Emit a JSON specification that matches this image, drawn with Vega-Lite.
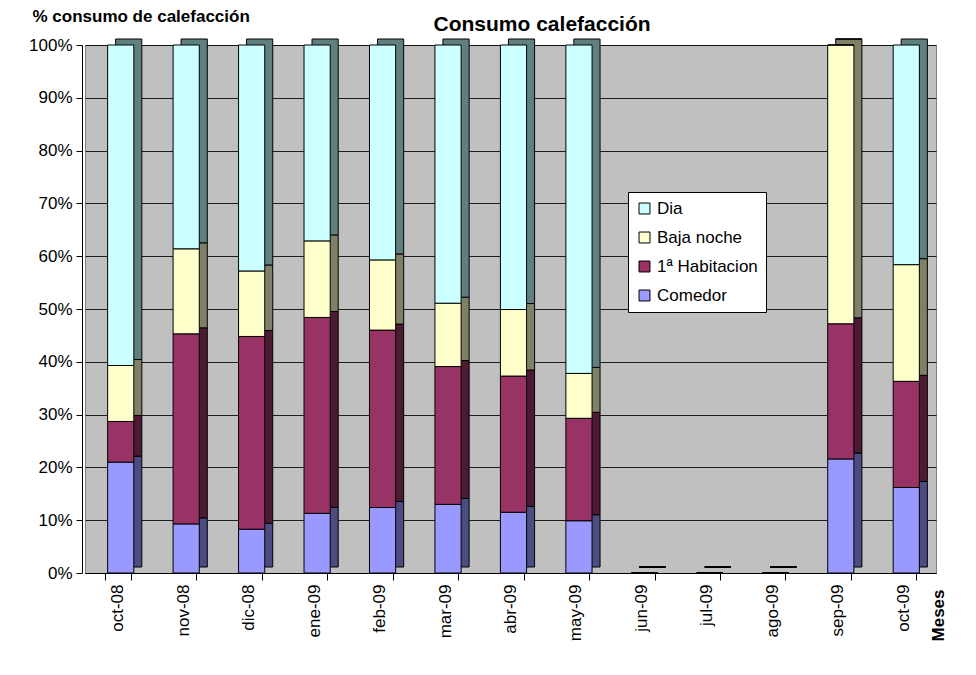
{
  "$schema": "https://vega.github.io/schema/vega-lite/v6.json",
  "autosize": "none",
  "width": 851,
  "height": 528,
  "padding": {"left": 85, "top": 45, "right": 40, "bottom": 102},
  "background": "white",
  "title": {
    "text": "Consumo calefacción",
    "font": "Liberation Sans",
    "fontSize": 21,
    "fontWeight": "bold",
    "color": "black",
    "anchor": "start",
    "baseline": "bottom",
    "dx": 405,
    "offset": -49
  },
  "config": {
    "view": {"fill": "#C0C0C0", "stroke": "#808080", "strokeWidth": 1},
    "font": "Liberation Sans"
  },
  "data": {
    "values": [
      {"mes": "oct-08", "serie": "Comedor", "orden": 1, "valor": 21.0},
      {"mes": "oct-08", "serie": "1ª Habitacion", "orden": 2, "valor": 7.7},
      {"mes": "oct-08", "serie": "Baja noche", "orden": 3, "valor": 10.6},
      {"mes": "oct-08", "serie": "Dia", "orden": 4, "valor": 60.7},
      {"mes": "nov-08", "serie": "Comedor", "orden": 1, "valor": 9.3},
      {"mes": "nov-08", "serie": "1ª Habitacion", "orden": 2, "valor": 36.0},
      {"mes": "nov-08", "serie": "Baja noche", "orden": 3, "valor": 16.1},
      {"mes": "nov-08", "serie": "Dia", "orden": 4, "valor": 38.6},
      {"mes": "dic-08", "serie": "Comedor", "orden": 1, "valor": 8.3},
      {"mes": "dic-08", "serie": "1ª Habitacion", "orden": 2, "valor": 36.5},
      {"mes": "dic-08", "serie": "Baja noche", "orden": 3, "valor": 12.4},
      {"mes": "dic-08", "serie": "Dia", "orden": 4, "valor": 42.8},
      {"mes": "ene-09", "serie": "Comedor", "orden": 1, "valor": 11.3},
      {"mes": "ene-09", "serie": "1ª Habitacion", "orden": 2, "valor": 37.1},
      {"mes": "ene-09", "serie": "Baja noche", "orden": 3, "valor": 14.5},
      {"mes": "ene-09", "serie": "Dia", "orden": 4, "valor": 37.1},
      {"mes": "feb-09", "serie": "Comedor", "orden": 1, "valor": 12.4},
      {"mes": "feb-09", "serie": "1ª Habitacion", "orden": 2, "valor": 33.6},
      {"mes": "feb-09", "serie": "Baja noche", "orden": 3, "valor": 13.3},
      {"mes": "feb-09", "serie": "Dia", "orden": 4, "valor": 40.7},
      {"mes": "mar-09", "serie": "Comedor", "orden": 1, "valor": 13.0},
      {"mes": "mar-09", "serie": "1ª Habitacion", "orden": 2, "valor": 26.1},
      {"mes": "mar-09", "serie": "Baja noche", "orden": 3, "valor": 12.0},
      {"mes": "mar-09", "serie": "Dia", "orden": 4, "valor": 48.9},
      {"mes": "abr-09", "serie": "Comedor", "orden": 1, "valor": 11.5},
      {"mes": "abr-09", "serie": "1ª Habitacion", "orden": 2, "valor": 25.8},
      {"mes": "abr-09", "serie": "Baja noche", "orden": 3, "valor": 12.6},
      {"mes": "abr-09", "serie": "Dia", "orden": 4, "valor": 50.1},
      {"mes": "may-09", "serie": "Comedor", "orden": 1, "valor": 9.9},
      {"mes": "may-09", "serie": "1ª Habitacion", "orden": 2, "valor": 19.4},
      {"mes": "may-09", "serie": "Baja noche", "orden": 3, "valor": 8.5},
      {"mes": "may-09", "serie": "Dia", "orden": 4, "valor": 62.2},
      {"mes": "jun-09", "serie": "Comedor", "orden": 1, "valor": 0},
      {"mes": "jun-09", "serie": "1ª Habitacion", "orden": 2, "valor": 0},
      {"mes": "jun-09", "serie": "Baja noche", "orden": 3, "valor": 0},
      {"mes": "jun-09", "serie": "Dia", "orden": 4, "valor": 0},
      {"mes": "jul-09", "serie": "Comedor", "orden": 1, "valor": 0},
      {"mes": "jul-09", "serie": "1ª Habitacion", "orden": 2, "valor": 0},
      {"mes": "jul-09", "serie": "Baja noche", "orden": 3, "valor": 0},
      {"mes": "jul-09", "serie": "Dia", "orden": 4, "valor": 0},
      {"mes": "ago-09", "serie": "Comedor", "orden": 1, "valor": 0},
      {"mes": "ago-09", "serie": "1ª Habitacion", "orden": 2, "valor": 0},
      {"mes": "ago-09", "serie": "Baja noche", "orden": 3, "valor": 0},
      {"mes": "ago-09", "serie": "Dia", "orden": 4, "valor": 0},
      {"mes": "sep-09", "serie": "Comedor", "orden": 1, "valor": 21.6},
      {"mes": "sep-09", "serie": "1ª Habitacion", "orden": 2, "valor": 25.6},
      {"mes": "sep-09", "serie": "Baja noche", "orden": 3, "valor": 52.8},
      {"mes": "sep-09", "serie": "Dia", "orden": 4, "valor": 0},
      {"mes": "oct-09", "serie": "Comedor", "orden": 1, "valor": 16.2},
      {"mes": "oct-09", "serie": "1ª Habitacion", "orden": 2, "valor": 20.1},
      {"mes": "oct-09", "serie": "Baja noche", "orden": 3, "valor": 22.1},
      {"mes": "oct-09", "serie": "Dia", "orden": 4, "valor": 41.6}
    ]
  },
  "encoding": {
    "x": {
      "field": "mes",
      "type": "nominal",
      "sort": null,
      "scale": {"paddingInner": 0.6, "paddingOuter": 0.3},
      "axis": {
        "title": "Meses",
        "titleFont": "Liberation Sans",
        "titleFontSize": 17,
        "titleFontWeight": "bold",
        "titleColor": "black",
        "titleAngle": -90,
        "titleX": 853,
        "titleY": 42,
        "titleAlign": "center",
        "titleBaseline": "middle",
        "labelAngle": -90,
        "labelFont": "Liberation Sans",
        "labelFontSize": 17,
        "labelColor": "black",
        "labelPadding": 4,
        "tickBand": "extent",
        "tickColor": "black",
        "tickSize": 7,
        "domainColor": "black",
        "grid": false
      }
    },
    "y": {
      "field": "valor",
      "type": "quantitative",
      "stack": "zero",
      "scale": {"domain": [0, 100], "nice": false},
      "axis": {
        "values": [0, 10, 20, 30, 40, 50, 60, 70, 80, 90, 100],
        "labelExpr": "datum.value + '%'",
        "labelFont": "Liberation Sans",
        "labelFontSize": 17,
        "labelColor": "black",
        "labelPadding": 4,
        "tickColor": "black",
        "tickSize": 6,
        "offset": 3,
        "domainColor": "black",
        "grid": true,
        "gridColor": "#000000",
        "gridOpacity": 0.85,
        "gridWidth": 1,
        "title": "% consumo de calefacción",
        "titleFont": "Liberation Sans Narrow, Liberation Sans",
        "titleFontSize": 17,
        "titleFontWeight": "bold",
        "titleColor": "black",
        "titleAngle": 0,
        "titleAlign": "left",
        "titleBaseline": "middle",
        "titleX": -50,
        "titleY": -29
      }
    },
    "order": {"field": "orden", "type": "quantitative", "sort": "ascending"}
  },
  "layer": [
    {
      "mark": {"type": "bar", "xOffset": 11, "yOffset": -6, "stroke": "black", "strokeWidth": 1},
      "encoding": {
        "color": {
          "field": "serie",
          "type": "nominal",
          "scale": {
            "domain": ["Dia", "Baja noche", "1ª Habitacion", "Comedor"],
            "range": ["#608080", "#808066", "#4D1A33", "#4C4C80"]
          },
          "legend": null
        }
      }
    },
    {
      "mark": {"type": "bar", "xOffset": 3, "stroke": "black", "strokeWidth": 1, "opacity": 1},
      "encoding": {
        "color": {
          "field": "serie",
          "type": "nominal",
          "scale": {
            "domain": ["Dia", "Baja noche", "1ª Habitacion", "Comedor"],
            "range": ["#CCFFFF", "#FFFFCC", "#993366", "#9999FF"]
          },
          "legend": {
            "title": null,
            "orient": "none",
            "legendX": 543,
            "legendY": 147,
            "fillColor": "white",
            "strokeColor": "black",
            "padding": 8,
            "labelFont": "Liberation Sans",
            "labelFontSize": 17,
            "labelColor": "black",
            "labelLimit": 200,
            "rowPadding": 11,
            "symbolType": "square",
            "symbolSize": 120,
            "symbolStrokeColor": "black",
            "symbolStrokeWidth": 1,
            "symbolOpacity": 1
          }
        }
      }
    }
  ],
  "resolve": {"scale": {"color": "independent"}}
}
